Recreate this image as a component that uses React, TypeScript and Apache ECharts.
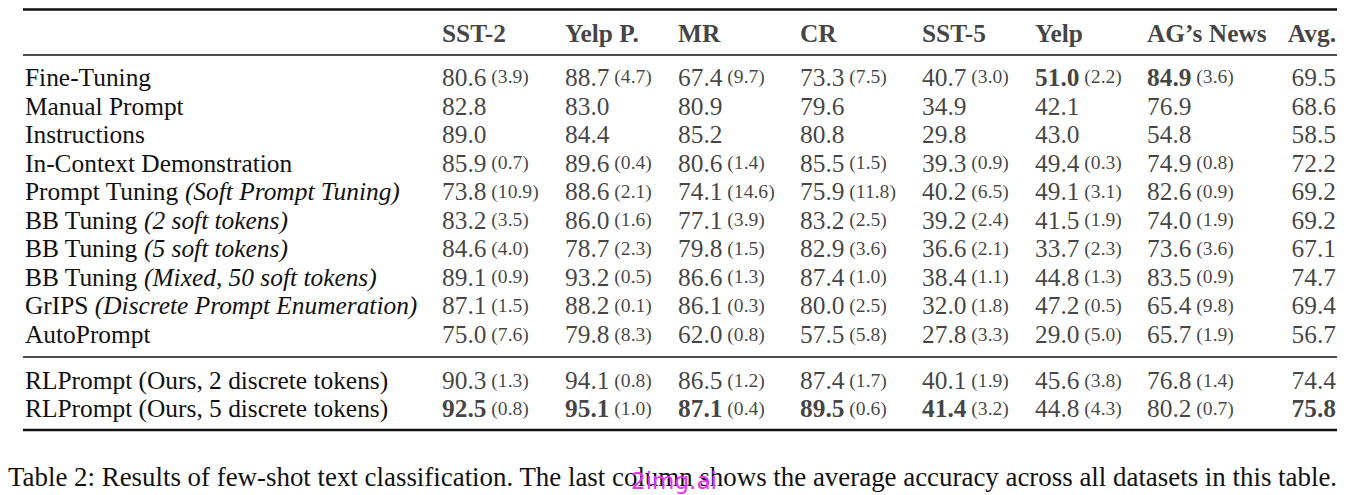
import React, { useEffect, useRef } from "react";
import * as echarts from "echarts";

// ---------- data ----------
const columns = ["SST-2", "Yelp P.", "MR", "CR", "SST-5", "Yelp", "AG’s News", "Avg."];

const methodNames = [
  "Fine-Tuning",
  "Manual Prompt",
  "Instructions",
  "In-Context Demonstration",
  "Prompt Tuning",
  "BB Tuning",
  "BB Tuning",
  "BB Tuning",
  "GrIPS",
  "AutoPrompt",
  "RLPrompt (Ours, 2 discrete tokens)",
  "RLPrompt (Ours, 5 discrete tokens)",
];
const methodNotes = [
  "", "", "", "",
  "(Soft Prompt Tuning)",
  "(2 soft tokens)",
  "(5 soft tokens)",
  "(Mixed, 50 soft tokens)",
  "(Discrete Prompt Enumeration)",
  "", "", "",
];

const sst2Acc = [80.6, 82.8, 89.0, 85.9, 73.8, 83.2, 84.6, 89.1, 87.1, 75.0, 90.3, 92.5];
const sst2Std = [3.9, null, null, 0.7, 10.9, 3.5, 4.0, 0.9, 1.5, 7.6, 1.3, 0.8];
const yelpPAcc = [88.7, 83.0, 84.4, 89.6, 88.6, 86.0, 78.7, 93.2, 88.2, 79.8, 94.1, 95.1];
const yelpPStd = [4.7, null, null, 0.4, 2.1, 1.6, 2.3, 0.5, 0.1, 8.3, 0.8, 1.0];
const mrAcc = [67.4, 80.9, 85.2, 80.6, 74.1, 77.1, 79.8, 86.6, 86.1, 62.0, 86.5, 87.1];
const mrStd = [9.7, null, null, 1.4, 14.6, 3.9, 1.5, 1.3, 0.3, 0.8, 1.2, 0.4];
const crAcc = [73.3, 79.6, 80.8, 85.5, 75.9, 83.2, 82.9, 87.4, 80.0, 57.5, 87.4, 89.5];
const crStd = [7.5, null, null, 1.5, 11.8, 2.5, 3.6, 1.0, 2.5, 5.8, 1.7, 0.6];
const sst5Acc = [40.7, 34.9, 29.8, 39.3, 40.2, 39.2, 36.6, 38.4, 32.0, 27.8, 40.1, 41.4];
const sst5Std = [3.0, null, null, 0.9, 6.5, 2.4, 2.1, 1.1, 1.8, 3.3, 1.9, 3.2];
const yelpAcc = [51.0, 42.1, 43.0, 49.4, 49.1, 41.5, 33.7, 44.8, 47.2, 29.0, 45.6, 44.8];
const yelpStd = [2.2, null, null, 0.3, 3.1, 1.9, 2.3, 1.3, 0.5, 5.0, 3.8, 4.3];
const agNewsAcc = [84.9, 76.9, 54.8, 74.9, 82.6, 74.0, 73.6, 83.5, 65.4, 65.7, 76.8, 80.2];
const agNewsStd = [3.6, null, null, 0.8, 0.9, 1.9, 3.6, 0.9, 9.8, 1.9, 1.4, 0.7];
const avgAcc = [69.5, 68.6, 58.5, 72.2, 69.2, 69.2, 67.1, 74.7, 69.4, 56.7, 74.4, 75.8];
const avgStd = [null, null, null, null, null, null, null, null, null, null, null, null];

const caption =
  "Table 2: Results of few-shot text classification. The last column shows the average accuracy across all datasets in this table.";
const watermark = "2img.ai";

// ---------- layout / style ----------
const FONT = '"Liberation Serif", "Times New Roman", Times, serif';
const INK = "#111111";
const MAIN = 25.4;
const SMALL = 19.6;
const colNudge = [0, 5.5, 1, 5.5, 10, 5.5, 0, 71.5];
const gridLeft = 442;
const gridRight = 83.5;

const accCols = [sst2Acc, yelpPAcc, mrAcc, crAcc, sst5Acc, yelpAcc, agNewsAcc, avgAcc];
const stdCols = [sst2Std, yelpPStd, mrStd, crStd, sst5Std, yelpStd, agNewsStd, avgStd];

const richCell = {
  v: { fontFamily: FONT, fontSize: MAIN, color: INK, lineHeight: 30 },
  b: { fontFamily: FONT, fontSize: MAIN, color: INK, fontWeight: "bold", lineHeight: 30 },
  s: { fontFamily: FONT, fontSize: SMALL, color: INK, lineHeight: 30 },
};

function cellData(rowStart: number, rowEnd: number) {
  const out: any[] = [];
  for (let c = 0; c < columns.length; c++) {
    const best = Math.max(...accCols[c]);
    for (let r = rowStart; r < rowEnd; r++) {
      const v = accCols[c][r];
      const sd = stdCols[c][r];
      const tag = v === best ? "b" : "v";
      let text = `{${tag}|${v.toFixed(1)}}`;
      if (sd !== null && sd !== undefined) text += `{s| (${sd.toFixed(1)})}`;
      const isLast = c === columns.length - 1;
      out.push({
        value: [c, r - rowStart],
        label: {
          show: true,
          position: "inside",
          align: isLast ? "right" : "left",
          verticalAlign: "middle",
          offset: [colNudge[c], 0],
          formatter: text,
          rich: richCell,
        },
      });
    }
  }
  return out;
}

function headerData() {
  return columns.map((name, c) => ({
    value: [c, 0],
    label: {
      show: true,
      position: "inside",
      align: c === columns.length - 1 ? "right" : "left",
      verticalAlign: "middle",
      offset: [colNudge[c], 0],
      formatter: name,
      fontFamily: FONT,
      fontSize: MAIN,
      fontWeight: "bold",
      color: INK,
    },
  }));
}

function rowAxis(gridIndex: number, rowStart: number, rowEnd: number) {
  return {
    type: "category",
    gridIndex,
    inverse: true,
    boundaryGap: true,
    data: methodNames.slice(rowStart, rowEnd),
    axisLine: { show: false },
    axisTick: { show: false },
    splitLine: { show: false },
    axisLabel: {
      show: true,
      interval: 0,
      align: "left",
      margin: gridLeft - 25,
      formatter: (_: string, idx: number) => {
        const r = rowStart + idx;
        const note = methodNotes[r];
        return note ? `{n|${methodNames[r]} }{i|${note}}` : `{n|${methodNames[r]}}`;
      },
      rich: {
        n: { fontFamily: FONT, fontSize: MAIN, color: INK },
        i: { fontFamily: FONT, fontSize: MAIN, color: INK, fontStyle: "italic" },
      },
    },
  };
}

function colAxis(gridIndex: number) {
  return {
    type: "category",
    gridIndex,
    boundaryGap: false,
    data: columns,
    show: false,
  };
}

export default function App() {
  const ref = useRef<HTMLDivElement>(null);
  useEffect(() => {
    if (!ref.current) return;
    const chart = echarts.init(ref.current, undefined, { renderer: "svg" });
    const lineStyle = (w: number) => ({ stroke: INK, lineWidth: w });
    chart.setOption({
      animation: false,
      backgroundColor: "#ffffff",
      grid: [
        { left: gridLeft, right: gridRight, top: 23, height: 20 },
        { left: gridLeft, right: gridRight, top: 62.7, height: 285.6 },
        { left: gridLeft, right: gridRight, top: 366, height: 56 },
      ],
      xAxis: [colAxis(0), colAxis(1), colAxis(2)],
      yAxis: [
        { type: "category", gridIndex: 0, data: ["header"], show: false, boundaryGap: true },
        rowAxis(1, 0, 10),
        rowAxis(2, 10, 12),
      ],
      series: [
        {
          type: "scatter",
          xAxisIndex: 0,
          yAxisIndex: 0,
          symbolSize: 1,
          itemStyle: { color: "rgba(0,0,0,0)" },
          data: headerData(),
          silent: true,
        },
        {
          type: "scatter",
          xAxisIndex: 1,
          yAxisIndex: 1,
          symbolSize: 1,
          itemStyle: { color: "rgba(0,0,0,0)" },
          data: cellData(0, 10),
          silent: true,
        },
        {
          type: "scatter",
          xAxisIndex: 2,
          yAxisIndex: 2,
          symbolSize: 1,
          itemStyle: { color: "rgba(0,0,0,0)" },
          data: cellData(10, 12),
          silent: true,
        },
      ],
      graphic: [
        { type: "line", shape: { x1: 23, y1: 9.5, x2: 1337, y2: 9.5 }, style: lineStyle(2.4) },
        { type: "line", shape: { x1: 23, y1: 55, x2: 1337, y2: 55 }, style: lineStyle(1.3) },
        { type: "line", shape: { x1: 23, y1: 357, x2: 1337, y2: 357 }, style: lineStyle(1.3) },
        { type: "line", shape: { x1: 23, y1: 430, x2: 1337, y2: 430 }, style: lineStyle(2.4) },
        {
          type: "text",
          x: 8,
          y: 477,
          style: {
            text: caption,
            fill: INK,
            fontFamily: FONT,
            fontSize: 26.9,
            verticalAlign: "middle",
            align: "left",
          },
        },
        {
          type: "text",
          x: 674,
          y: 481,
          z: 100,
          style: {
            text: watermark,
            fill: "#ee33ee",
            fontFamily: '"DejaVu Sans", sans-serif',
            fontSize: 23,
            verticalAlign: "middle",
            align: "center",
          },
        },
      ],
    });
    return () => chart.dispose();
  }, []);
  return (
    <div
      ref={ref}
      style={{ position: "fixed", left: 0, top: 0, width: 1348, height: 495, background: "#fff" }}
    />
  );
}
